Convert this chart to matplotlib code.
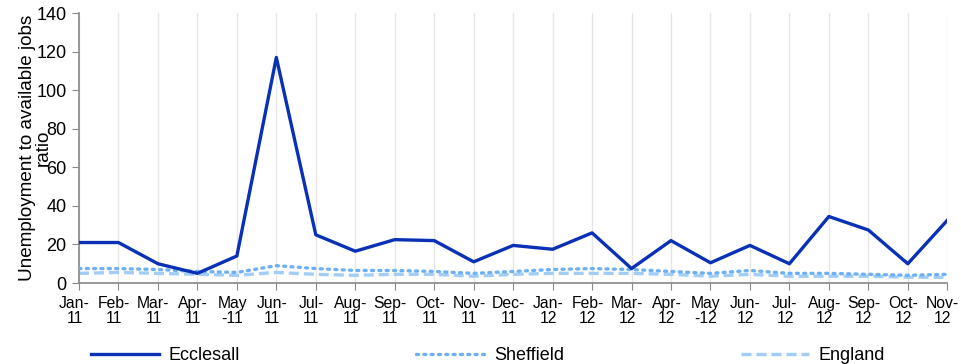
import matplotlib.pyplot as plt
from matplotlib.transforms import ScaledTranslation

plt.rcParams['font.family'] = ['Liberation Sans', 'DejaVu Sans']

months = ['Jan-\n11', 'Feb-\n11', 'Mar-\n11', 'Apr-\n11', 'May\n-11', 'Jun-\n11',
          'Jul-\n11', 'Aug-\n11', 'Sep-\n11', 'Oct-\n11', 'Nov-\n11', 'Dec-\n11',
          'Jan-\n12', 'Feb-\n12', 'Mar-\n12', 'Apr-\n12', 'May\n-12', 'Jun-\n12',
          'Jul-\n12', 'Aug-\n12', 'Sep-\n12', 'Oct-\n12', 'Nov-\n12']

ecclesall = [21, 21, 10, 5, 14, 117, 25, 16.5, 22.5, 22, 11, 19.5,
             17.5, 26, 7.5, 22, 10.5, 19.5, 10, 34.5, 27.5, 10, 32.5]
sheffield = [7.5, 7.5, 7, 6, 5.5, 9, 7.5, 6.5, 6.5, 6, 5, 6,
             7, 7.5, 7, 6, 5, 6.5, 5, 5, 4.5, 4, 4.5]
england = [5, 5.5, 5, 4.5, 4, 5.5, 4.5, 4, 4.5, 4.5, 3.5, 4.5,
           5, 5, 5, 4.5, 3.5, 4.5, 3.5, 3.5, 3.5, 3, 3]

fig = plt.figure(figsize=(9.61, 3.64), dpi=100)
ax = fig.add_axes([0.0822, 0.2225, 0.9035, 0.7415])

x = list(range(len(months)))
ax.plot(x, ecclesall, color='#0a31b5', lw=2.4, label='Ecclesall', zorder=4)
ax.plot(x, sheffield, color='#6fb0f5', lw=2.4, ls=(0, (0.6, 1.6)),
        dash_capstyle='round', label='Sheffield', zorder=3)
ax.plot(x, england, color='#a3cdf7', lw=2.4, ls=(0, (3, 1.5)), label='England', zorder=2)

ax.set_xlim(0, len(months) - 1)
ax.set_ylim(0, 140)
ax.set_yticks(range(0, 141, 20))
ax.set_xticks(x)
ax.set_xticklabels(months, fontsize=11.3, linespacing=1.05)
ax.tick_params(axis='y', labelsize=13, length=5, color='#888888', pad=4)
ax.tick_params(axis='x', length=5, color='#888888', pad=4)
ax.grid(axis='x', color='#e6e6e6', lw=1)
ax.set_axisbelow(True)

# month labels sit a little left of their ticks
shift = ScaledTranslation(-3.2 / 72, 0, fig.dpi_scale_trans)
for lbl in ax.get_xticklabels():
    lbl.set_transform(lbl.get_transform() + shift)

for s in ['top', 'right']:
    ax.spines[s].set_visible(False)
for s in ['left', 'bottom']:
    ax.spines[s].set_color('#888888')
    ax.spines[s].set_linewidth(1.2)

ax.set_ylabel('Unemployment to available jobs\nratio', fontsize=13.6, linespacing=0.95)
ax.yaxis.set_label_coords(-0.031, 0.5)

fig.legend(loc='lower left', bbox_to_anchor=(0.0775, -0.046, 0.86, 0.1), mode='expand',
           ncol=3, frameon=False, fontsize=13, handlelength=3.8, handletextpad=0.5)

fig.savefig('out.png', dpi=100)
